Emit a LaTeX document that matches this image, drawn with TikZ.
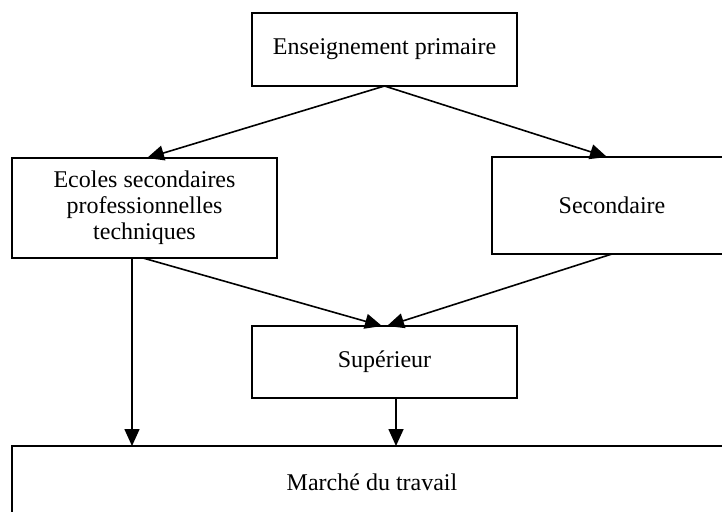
\documentclass[tikz,border=0pt]{standalone}
\usepackage{fontspec}
\setmainfont{Liberation Serif}
\usepackage{tikz}
\usetikzlibrary{positioning, arrows.meta, calc}

\tikzset{
	boite/.style={rectangle, draw=black, line width=0.8pt, outer sep=0pt,
		align=center, font=\fontsize{12}{13}\selectfont},
	fleche/.style={-{Triangle[length=8.5pt, width=7.5pt]}, line width=0.8pt}
}

\begin{document}
\begin{tikzpicture}[x=0.5pt, y=-0.5pt]
		
		\path[use as bounding box] (0,0) rectangle (722,511);
		\clip (0,0) rectangle (722,511);
		
		% Primaire
		\node[boite, minimum width=132.5pt, minimum height=36.5pt] (primaire) at (384.5,49.5) {Enseignement primaire};
		
		% Secondaire
		\node[boite, minimum width=132.5pt, minimum height=50pt] (ecoles) at (144.5,208) {Ecoles secondaires\\professionnelles\\techniques};
		\node[boite, minimum width=120pt, minimum height=48.5pt] (secondaire) at (612,205.5) {Secondaire};
		
		% Superieur
		\node[boite, minimum width=132.5pt, minimum height=36pt] (superieur) at (384.5,362) {Supérieur};
		
		% Marche du travail
		\node[boite, minimum width=360pt, minimum height=36pt] (marche) at (372,482) {Marché du travail};
		
		% Points de depart des fleches verticales
		\coordinate (depart1) at ($(ecoles.south)+(-12.5,0)$);
		\coordinate (depart2) at ($(superieur.south)+(11.5,0)$);
		
		% Connections
		\draw[fleche] (primaire.south) -- ($(ecoles.north)+(2.5,0)$);
		\draw[fleche] (primaire.south) -- ($(secondaire.north)+(-5,0)$);
		
		\draw[fleche] ($(ecoles.south)+(-1.5,0)$) -- ($(superieur.north)+(-2.5,0)$);
		\draw[fleche] (secondaire.south) -- ($(superieur.north)+(2.5,0)$);
		
		\draw[fleche] (depart1) -- (depart1 |- marche.north);
		\draw[fleche] (depart2) -- (depart2 |- marche.north);
	\end{tikzpicture}
\end{document}
